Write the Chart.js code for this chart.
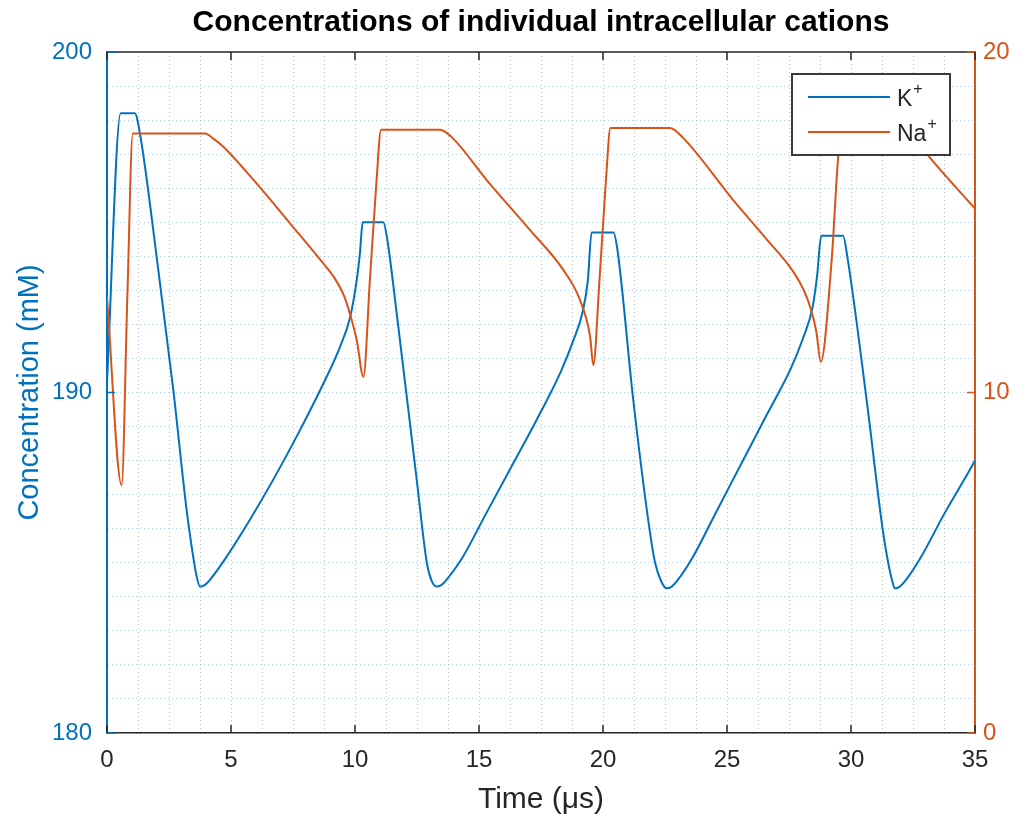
<!DOCTYPE html>
<html>
<head>
<meta charset="utf-8">
<script src="https://cdn.jsdelivr.net/npm/chart.js@4.4.1/dist/chart.umd.min.js"></script>
<style>
html,body{margin:0;padding:0;background:#fff;}
#wrap{width:1020px;height:818px;}
</style>
</head>
<body>
<div id="wrap"><canvas id="c" width="1020" height="818"></canvas></div>
<script>
// ---- Data ----
const kTime = [0, 0.55, 1.12, 1.33, 2.0, 2.67, 3.21, 3.45, 3.6, 3.75, 3.95, 4.15, 4.75, 5.75, 6.75, 7.75, 8.75, 9.4, 9.8, 10.07, 10.2, 10.31,
  11.14, 11.3, 11.68, 12.49, 12.9, 13.1, 13.29, 13.49, 13.69, 14.29, 15.29, 16.29, 17.29, 18.29, 18.79, 19.19, 19.39, 19.54,
  20.42, 20.58, 21.22, 21.9, 22.1, 22.35, 22.57, 22.77, 22.97, 23.57, 24.57, 25.57, 26.57, 27.57, 28.07, 28.45, 28.63, 28.8,
  29.68, 29.85, 30.63, 31.3, 31.5, 31.65, 31.77, 31.97, 32.17, 32.77, 33.77, 34.77, 35];
const kValues = [190.3, 198.2, 198.2, 197.6, 194.0, 190.1, 186.55, 185.3, 184.65, 184.3, 184.35, 184.5, 185.1, 186.25, 187.5, 188.85, 190.3, 191.35, 192.2, 193.3, 194.1, 195.0,
  195.0, 194.5, 192.33, 187.43, 184.98, 184.45, 184.3, 184.35, 184.5, 185.1, 186.45, 187.8, 189.15, 190.6, 191.5, 192.4, 193.3, 194.7,
  194.7, 194.2, 189.78, 185.86, 185.0, 184.45, 184.25, 184.3, 184.45, 185.1, 186.5, 187.9, 189.3, 190.7, 191.6, 192.5, 193.4, 194.6,
  194.6, 194.0, 189.78, 185.86, 185.0, 184.5, 184.25, 184.3, 184.45, 185.1, 186.45, 187.7, 188.0];

const naTime = [0, 0.59, 0.82, 1.04, 3.95, 4.3, 4.69, 6.03, 7.38, 8.72, 9.2, 9.55, 9.8, 10.07, 10.34, 10.6, 10.87, 11.05,
  13.43, 13.9, 15.31, 17.06, 18.4, 19.07, 19.48, 19.61, 19.85, 20.12, 20.3,
  22.7, 23.2, 25.25, 26.6, 27.67, 28.1, 28.35, 28.6, 28.78, 29.22, 29.49, 29.65,
  32.2, 32.6, 33.1, 35];
const naValues = [12.8, 7.28, 12.8, 17.61, 17.61, 17.45, 17.22, 16.14, 14.97, 13.79, 13.33, 12.85, 12.3, 11.54, 10.46, 13.3, 16.24, 17.72,
  17.72, 17.5, 16.24, 14.77, 13.6, 12.72, 11.64, 10.81, 13.2, 16.24, 17.77,
  17.77, 17.5, 15.65, 14.5, 13.55, 13.0, 12.52, 11.8, 10.9, 13.89, 16.97, 17.7,
  17.7, 17.45, 16.97, 15.4];

const seriesLabels = ['K⁺', 'Na⁺'];
const xTickLabels = [0, 5, 10, 15, 20, 25, 30, 35];
const leftTickLabels = [180, 190, 200];
const rightTickLabels = [0, 10, 20];

const BLUE = '#0072BD';
const ORANGE = '#D95319';
const DARK = '#262626';

Chart.defaults.font.family = '"Liberation Sans", Arial, Helvetica, sans-serif';

const toPoints = (xs, ys) => xs.map((x, i) => ({x: x, y: ys[i]}));

// inward ticks, top frame line
const framePlugin = {
  id: 'frame',
  afterDatasetsDraw(chart) {
    const {ctx, chartArea: a, scales} = chart;
    ctx.save();
    ctx.lineWidth = 1.5;
    ctx.strokeStyle = DARK;
    ctx.beginPath();
    ctx.moveTo(a.left, a.top);
    ctx.lineTo(a.right, a.top);
    ctx.stroke();
    const tl = 8;
    xTickLabels.forEach(v => {
      const px = scales.x.getPixelForValue(v);
      ctx.beginPath();
      ctx.moveTo(px, a.bottom); ctx.lineTo(px, a.bottom - tl);
      ctx.moveTo(px, a.top); ctx.lineTo(px, a.top + tl);
      ctx.stroke();
    });
    ctx.strokeStyle = BLUE;
    leftTickLabels.forEach(v => {
      const py = scales.y.getPixelForValue(v);
      ctx.beginPath(); ctx.moveTo(a.left, py); ctx.lineTo(a.left + tl, py); ctx.stroke();
    });
    ctx.strokeStyle = ORANGE;
    rightTickLabels.forEach(v => {
      const py = scales.y2.getPixelForValue(v);
      ctx.beginPath(); ctx.moveTo(a.right, py); ctx.lineTo(a.right - tl, py); ctx.stroke();
    });
    ctx.restore();
  }
};

// MATLAB-style legend box in the upper right
const legendPlugin = {
  id: 'mlegend',
  afterDraw(chart) {
    const {ctx} = chart;
    const x0 = 792, y0 = 74, w = 158, h = 81;
    ctx.save();
    ctx.fillStyle = '#fff';
    ctx.fillRect(x0, y0, w, h);
    ctx.lineWidth = 2;
    ctx.strokeStyle = '#3a3a3a';
    ctx.strokeRect(x0, y0, w, h);
    chart.data.datasets.forEach((ds, i) => {
      const yy = y0 + 23 + i * 35;
      ctx.strokeStyle = ds.borderColor;
      ctx.lineWidth = 2;
      ctx.beginPath(); ctx.moveTo(x0 + 16, yy); ctx.lineTo(x0 + 98, yy); ctx.stroke();
      const label = ds.label;
      const base = label.replace('⁺', '');
      ctx.fillStyle = DARK;
      ctx.textBaseline = 'middle';
      ctx.textAlign = 'left';
      ctx.font = '23px "Liberation Sans", Arial, sans-serif';
      ctx.fillText(base, x0 + 105, yy + 3);
      const bw = ctx.measureText(base).width;
      ctx.font = '16px "Liberation Sans", Arial, sans-serif';
      ctx.fillText('+', x0 + 105 + bw + 1, yy - 7);
    });
    ctx.restore();
  }
};

new Chart(document.getElementById('c'), {
  type: 'line',
  data: {
    datasets: [
      {label: seriesLabels[0], data: toPoints(kTime, kValues), borderColor: BLUE, backgroundColor: BLUE,
       borderWidth: 2, pointRadius: 0, cubicInterpolationMode: 'monotone', yAxisID: 'y', order: 1},
      {label: seriesLabels[1], data: toPoints(naTime, naValues), borderColor: ORANGE, backgroundColor: ORANGE,
       borderWidth: 2, pointRadius: 0, cubicInterpolationMode: 'monotone', yAxisID: 'y2', order: 0}
    ]
  },
  options: {
    responsive: false,
    animation: false,
    devicePixelRatio: 1,
    layout: {padding: 0},
    plugins: {
      legend: {display: false},
      tooltip: {enabled: false},
      title: {
        display: true,
        fullSize: false,
        text: 'Concentrations of individual intracellular cations',
        color: '#000',
        font: {size: 30, weight: 'bold'},
        padding: {top: 5, bottom: 11}
      }
    },
    scales: {
      x: {
        type: 'linear', min: 0, max: 35,
        ticks: {stepSize: 1.25, autoSkip: false, maxRotation: 0, color: DARK, font: {size: 24}, padding: 13,
                callback: v => (xTickLabels.includes(v) ? String(v) : '')},
        grid: {color: 'rgba(38,38,38,0.3)', lineWidth: 1, drawTicks: false},
        border: {display: true, color: DARK, width: 1.5, dash: [1, 3]},
        title: {display: true, text: 'Time (μs)', color: DARK, font: {size: 30}, padding: {top: 0, bottom: 0}},
        afterFit: s => { s.height = 85; }
      },
      y: {
        type: 'linear', position: 'left', min: 180, max: 200,
        ticks: {stepSize: 1, autoSkip: false, color: BLUE, font: {size: 24}, padding: 15,
                callback: v => (leftTickLabels.includes(v) ? String(v) : '')},
        grid: {color: 'rgba(0,114,189,0.3)', lineWidth: 1, drawTicks: false},
        border: {display: true, color: BLUE, width: 2, dash: [1, 3]},
        title: {display: true, text: 'Concentration (mM)', color: BLUE, font: {size: 29}, padding: {top: 12.6, bottom: 0}},
        afterFit: s => { s.width = 107; }
      },
      y2: {
        type: 'linear', position: 'right', min: 0, max: 20,
        ticks: {stepSize: 10, color: ORANGE, font: {size: 24}, padding: 8,
                callback: v => (rightTickLabels.includes(v) ? String(v) : '')},
        grid: {display: false, drawTicks: false},
        border: {display: true, color: ORANGE, width: 2},
        afterFit: s => { s.width = 45; }
      }
    }
  },
  plugins: [framePlugin, legendPlugin]
});
</script>
</body>
</html>
